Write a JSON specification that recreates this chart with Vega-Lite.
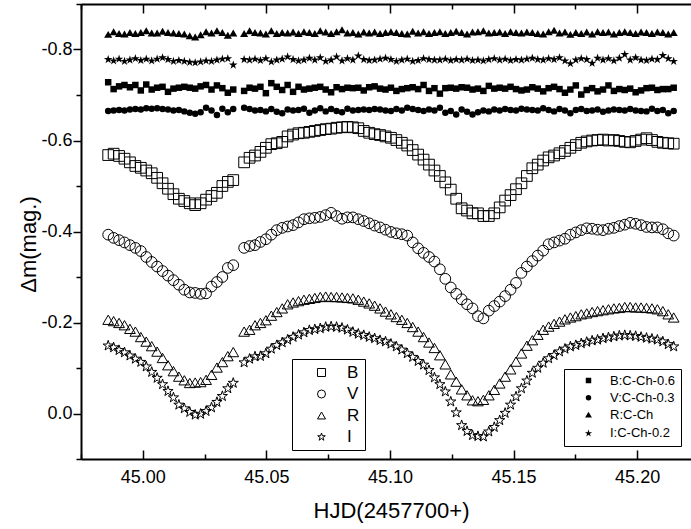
{
"$schema": "https://vega.github.io/schema/vega-lite/v6.json",
"width": 610, "height": 455,
"autosize": {"type": "none"},
"padding": {"left": 81, "top": 4, "right": 0, "bottom": 70},
"background": "white",
"config": {"view": {"stroke": null}, "font": "Liberation Sans",
  "axis": {"grid": false, "domainColor": "black", "tickColor": "black", "labelColor": "black", "titleColor": "black", "labelFont": "Liberation Sans", "titleFont": "Liberation Sans"},
  "legend": {"labelFont": "Liberation Sans", "labelColor": "black"}},
"data": {"values": [
{"t":44.9860,"B":-0.568,"V":-0.393,"R":-0.206,"I":-0.149,"Bc":-0.728,"Vc":-0.665,"Rc":-0.832,"Ic":-0.778},
{"t":44.9882,"B":-0.571,"V":-0.386,"R":-0.203,"I":-0.145,"Bc":-0.713,"Vc":-0.666,"Rc":-0.838,"Ic":-0.775},
{"t":44.9904,"B":-0.566,"V":-0.381,"R":-0.199,"I":-0.139,"Bc":-0.719,"Vc":-0.667,"Rc":-0.834,"Ic":-0.779},
{"t":44.9926,"B":-0.560,"V":-0.376,"R":-0.194,"I":-0.134,"Bc":-0.722,"Vc":-0.666,"Rc":-0.833,"Ic":-0.774},
{"t":44.9948,"B":-0.552,"V":-0.370,"R":-0.186,"I":-0.127,"Bc":-0.717,"Vc":-0.668,"Rc":-0.836,"Ic":-0.777},
{"t":44.9970,"B":-0.544,"V":-0.364,"R":-0.180,"I":-0.120,"Bc":-0.722,"Vc":-0.669,"Rc":-0.834,"Ic":-0.780},
{"t":44.9992,"B":-0.540,"V":-0.357,"R":-0.168,"I":-0.113,"Bc":-0.710,"Vc":-0.668,"Rc":-0.836,"Ic":-0.776},
{"t":45.0014,"B":-0.534,"V":-0.344,"R":-0.158,"I":-0.103,"Bc":-0.723,"Vc":-0.671,"Rc":-0.840,"Ic":-0.779},
{"t":45.0036,"B":-0.528,"V":-0.333,"R":-0.148,"I":-0.091,"Bc":-0.712,"Vc":-0.670,"Rc":-0.835,"Ic":-0.775},
{"t":45.0058,"B":-0.518,"V":-0.323,"R":-0.136,"I":-0.078,"Bc":-0.716,"Vc":-0.671,"Rc":-0.835,"Ic":-0.779},
{"t":45.0080,"B":-0.506,"V":-0.313,"R":-0.122,"I":-0.064,"Bc":-0.718,"Vc":-0.669,"Rc":-0.839,"Ic":-0.782},
{"t":45.0102,"B":-0.494,"V":-0.303,"R":-0.106,"I":-0.049,"Bc":-0.707,"Vc":-0.668,"Rc":-0.836,"Ic":-0.778},
{"t":45.0124,"B":-0.482,"V":-0.293,"R":-0.093,"I":-0.035,"Bc":-0.714,"Vc":-0.666,"Rc":-0.835,"Ic":-0.774},
{"t":45.0146,"B":-0.472,"V":-0.283,"R":-0.081,"I":-0.019,"Bc":-0.716,"Vc":-0.667,"Rc":-0.834,"Ic":-0.776},
{"t":45.0168,"B":-0.467,"V":-0.272,"R":-0.073,"I":-0.011,"Bc":-0.718,"Vc":-0.664,"Rc":-0.833,"Ic":-0.774},
{"t":45.0190,"B":-0.462,"V":-0.266,"R":-0.067,"I":-0.003,"Bc":-0.716,"Vc":-0.661,"Rc":-0.829,"Ic":-0.772},
{"t":45.0212,"B":-0.458,"V":-0.265,"R":-0.068,"I":0.003,"Bc":-0.714,"Vc":-0.659,"Rc":-0.826,"Ic":-0.771},
{"t":45.0234,"B":-0.462,"V":-0.263,"R":-0.069,"I":0.001,"Bc":-0.719,"Vc":-0.662,"Rc":-0.831,"Ic":-0.773},
{"t":45.0256,"B":-0.470,"V":-0.264,"R":-0.074,"I":-0.005,"Bc":-0.722,"Vc":-0.672,"Rc":-0.838,"Ic":-0.775},
{"t":45.0278,"B":-0.478,"V":-0.279,"R":-0.085,"I":-0.013,"Bc":-0.712,"Vc":-0.666,"Rc":-0.835,"Ic":-0.774},
{"t":45.0300,"B":-0.485,"V":-0.289,"R":-0.101,"I":-0.025,"Bc":-0.721,"Vc":-0.656,"Rc":-0.840,"Ic":-0.777},
{"t":45.0322,"B":-0.500,"V":-0.300,"R":-0.113,"I":-0.038,"Bc":-0.715,"Vc":-0.670,"Rc":-0.836,"Ic":-0.779},
{"t":45.0344,"B":-0.509,"V":-0.320,"R":-0.126,"I":-0.055,"Bc":-0.705,"Vc":-0.662,"Rc":-0.830,"Ic":-0.780},
{"t":45.0366,"B":-0.513,"V":-0.326,"R":-0.135,"I":-0.067,"Bc":-0.712,"Vc":-0.669,"Rc":-0.835,"Ic":-0.766},
{"t":45.0410,"B":-0.552,"V":-0.364,"R":-0.180,"I":-0.112,"Bc":-0.709,"Vc":-0.672,"Rc":-0.834,"Ic":-0.778},
{"t":45.0432,"B":-0.562,"V":-0.368,"R":-0.184,"I":-0.120,"Bc":-0.716,"Vc":-0.669,"Rc":-0.840,"Ic":-0.777},
{"t":45.0454,"B":-0.567,"V":-0.370,"R":-0.194,"I":-0.125,"Bc":-0.714,"Vc":-0.666,"Rc":-0.836,"Ic":-0.779},
{"t":45.0476,"B":-0.575,"V":-0.377,"R":-0.199,"I":-0.126,"Bc":-0.718,"Vc":-0.667,"Rc":-0.835,"Ic":-0.776},
{"t":45.0498,"B":-0.584,"V":-0.383,"R":-0.205,"I":-0.132,"Bc":-0.704,"Vc":-0.664,"Rc":-0.833,"Ic":-0.780},
{"t":45.0520,"B":-0.592,"V":-0.393,"R":-0.215,"I":-0.142,"Bc":-0.726,"Vc":-0.669,"Rc":-0.840,"Ic":-0.773},
{"t":45.0542,"B":-0.594,"V":-0.403,"R":-0.223,"I":-0.150,"Bc":-0.718,"Vc":-0.663,"Rc":-0.834,"Ic":-0.777},
{"t":45.0564,"B":-0.597,"V":-0.408,"R":-0.231,"I":-0.156,"Bc":-0.711,"Vc":-0.660,"Rc":-0.836,"Ic":-0.779},
{"t":45.0586,"B":-0.609,"V":-0.411,"R":-0.240,"I":-0.162,"Bc":-0.722,"Vc":-0.668,"Rc":-0.835,"Ic":-0.784},
{"t":45.0608,"B":-0.613,"V":-0.414,"R":-0.244,"I":-0.168,"Bc":-0.707,"Vc":-0.666,"Rc":-0.837,"Ic":-0.778},
{"t":45.0630,"B":-0.616,"V":-0.420,"R":-0.247,"I":-0.173,"Bc":-0.718,"Vc":-0.667,"Rc":-0.834,"Ic":-0.775},
{"t":45.0652,"B":-0.617,"V":-0.427,"R":-0.250,"I":-0.178,"Bc":-0.712,"Vc":-0.670,"Rc":-0.838,"Ic":-0.777},
{"t":45.0674,"B":-0.619,"V":-0.429,"R":-0.252,"I":-0.183,"Bc":-0.714,"Vc":-0.661,"Rc":-0.836,"Ic":-0.781},
{"t":45.0696,"B":-0.621,"V":-0.430,"R":-0.254,"I":-0.185,"Bc":-0.716,"Vc":-0.666,"Rc":-0.834,"Ic":-0.777},
{"t":45.0718,"B":-0.623,"V":-0.432,"R":-0.256,"I":-0.187,"Bc":-0.718,"Vc":-0.671,"Rc":-0.840,"Ic":-0.782},
{"t":45.0740,"B":-0.625,"V":-0.436,"R":-0.257,"I":-0.190,"Bc":-0.712,"Vc":-0.664,"Rc":-0.837,"Ic":-0.774},
{"t":45.0762,"B":-0.626,"V":-0.441,"R":-0.256,"I":-0.191,"Bc":-0.706,"Vc":-0.669,"Rc":-0.834,"Ic":-0.777},
{"t":45.0784,"B":-0.628,"V":-0.434,"R":-0.256,"I":-0.190,"Bc":-0.717,"Vc":-0.665,"Rc":-0.838,"Ic":-0.784},
{"t":45.0806,"B":-0.629,"V":-0.428,"R":-0.255,"I":-0.188,"Bc":-0.713,"Vc":-0.662,"Rc":-0.842,"Ic":-0.775},
{"t":45.0828,"B":-0.630,"V":-0.431,"R":-0.254,"I":-0.184,"Bc":-0.716,"Vc":-0.670,"Rc":-0.835,"Ic":-0.780},
{"t":45.0850,"B":-0.629,"V":-0.431,"R":-0.253,"I":-0.179,"Bc":-0.715,"Vc":-0.666,"Rc":-0.836,"Ic":-0.777},
{"t":45.0872,"B":-0.627,"V":-0.427,"R":-0.250,"I":-0.175,"Bc":-0.716,"Vc":-0.667,"Rc":-0.833,"Ic":-0.786},
{"t":45.0894,"B":-0.621,"V":-0.423,"R":-0.246,"I":-0.172,"Bc":-0.710,"Vc":-0.668,"Rc":-0.837,"Ic":-0.778},
{"t":45.0916,"B":-0.617,"V":-0.418,"R":-0.242,"I":-0.168,"Bc":-0.717,"Vc":-0.667,"Rc":-0.835,"Ic":-0.776},
{"t":45.0938,"B":-0.614,"V":-0.413,"R":-0.237,"I":-0.165,"Bc":-0.719,"Vc":-0.669,"Rc":-0.837,"Ic":-0.777},
{"t":45.0960,"B":-0.612,"V":-0.409,"R":-0.231,"I":-0.161,"Bc":-0.714,"Vc":-0.668,"Rc":-0.834,"Ic":-0.779},
{"t":45.0982,"B":-0.609,"V":-0.404,"R":-0.224,"I":-0.158,"Bc":-0.712,"Vc":-0.666,"Rc":-0.836,"Ic":-0.781},
{"t":45.1004,"B":-0.606,"V":-0.399,"R":-0.218,"I":-0.153,"Bc":-0.716,"Vc":-0.665,"Rc":-0.838,"Ic":-0.778},
{"t":45.1026,"B":-0.601,"V":-0.396,"R":-0.212,"I":-0.147,"Bc":-0.709,"Vc":-0.669,"Rc":-0.836,"Ic":-0.774},
{"t":45.1048,"B":-0.595,"V":-0.394,"R":-0.206,"I":-0.140,"Bc":-0.713,"Vc":-0.666,"Rc":-0.834,"Ic":-0.777},
{"t":45.1070,"B":-0.589,"V":-0.391,"R":-0.199,"I":-0.132,"Bc":-0.715,"Vc":-0.672,"Rc":-0.833,"Ic":-0.779},
{"t":45.1092,"B":-0.579,"V":-0.376,"R":-0.190,"I":-0.124,"Bc":-0.717,"Vc":-0.669,"Rc":-0.839,"Ic":-0.774},
{"t":45.1114,"B":-0.569,"V":-0.363,"R":-0.180,"I":-0.115,"Bc":-0.713,"Vc":-0.667,"Rc":-0.835,"Ic":-0.776},
{"t":45.1136,"B":-0.558,"V":-0.353,"R":-0.168,"I":-0.107,"Bc":-0.722,"Vc":-0.665,"Rc":-0.838,"Ic":-0.780},
{"t":45.1158,"B":-0.547,"V":-0.344,"R":-0.156,"I":-0.095,"Bc":-0.709,"Vc":-0.668,"Rc":-0.834,"Ic":-0.778},
{"t":45.1180,"B":-0.534,"V":-0.334,"R":-0.144,"I":-0.079,"Bc":-0.715,"Vc":-0.666,"Rc":-0.836,"Ic":-0.777},
{"t":45.1202,"B":-0.522,"V":-0.317,"R":-0.128,"I":-0.064,"Bc":-0.703,"Vc":-0.672,"Rc":-0.838,"Ic":-0.777},
{"t":45.1224,"B":-0.508,"V":-0.296,"R":-0.108,"I":-0.048,"Bc":-0.715,"Vc":-0.661,"Rc":-0.834,"Ic":-0.779},
{"t":45.1246,"B":-0.492,"V":-0.277,"R":-0.086,"I":-0.026,"Bc":-0.716,"Vc":-0.665,"Rc":-0.836,"Ic":-0.776},
{"t":45.1268,"B":-0.472,"V":-0.263,"R":-0.070,"I":-0.002,"Bc":-0.714,"Vc":-0.657,"Rc":-0.839,"Ic":-0.778},
{"t":45.1290,"B":-0.451,"V":-0.251,"R":-0.053,"I":0.026,"Bc":-0.717,"Vc":-0.668,"Rc":-0.836,"Ic":-0.777},
{"t":45.1312,"B":-0.446,"V":-0.240,"R":-0.040,"I":0.039,"Bc":-0.716,"Vc":-0.663,"Rc":-0.833,"Ic":-0.779},
{"t":45.1334,"B":-0.440,"V":-0.231,"R":-0.029,"I":0.048,"Bc":-0.712,"Vc":-0.657,"Rc":-0.837,"Ic":-0.776},
{"t":45.1356,"B":-0.440,"V":-0.214,"R":-0.027,"I":0.050,"Bc":-0.714,"Vc":-0.662,"Rc":-0.838,"Ic":-0.777},
{"t":45.1378,"B":-0.434,"V":-0.209,"R":-0.030,"I":0.051,"Bc":-0.709,"Vc":-0.666,"Rc":-0.840,"Ic":-0.775},
{"t":45.1400,"B":-0.434,"V":-0.226,"R":-0.040,"I":0.040,"Bc":-0.720,"Vc":-0.664,"Rc":-0.835,"Ic":-0.778},
{"t":45.1422,"B":-0.440,"V":-0.236,"R":-0.052,"I":0.030,"Bc":-0.714,"Vc":-0.668,"Rc":-0.836,"Ic":-0.780},
{"t":45.1444,"B":-0.453,"V":-0.246,"R":-0.066,"I":0.015,"Bc":-0.716,"Vc":-0.666,"Rc":-0.837,"Ic":-0.777},
{"t":45.1466,"B":-0.468,"V":-0.258,"R":-0.081,"I":-0.001,"Bc":-0.714,"Vc":-0.669,"Rc":-0.834,"Ic":-0.779},
{"t":45.1488,"B":-0.480,"V":-0.272,"R":-0.097,"I":-0.019,"Bc":-0.718,"Vc":-0.667,"Rc":-0.838,"Ic":-0.776},
{"t":45.1510,"B":-0.493,"V":-0.287,"R":-0.114,"I":-0.037,"Bc":-0.713,"Vc":-0.666,"Rc":-0.836,"Ic":-0.778},
{"t":45.1532,"B":-0.506,"V":-0.309,"R":-0.132,"I":-0.055,"Bc":-0.710,"Vc":-0.670,"Rc":-0.835,"Ic":-0.777},
{"t":45.1554,"B":-0.522,"V":-0.323,"R":-0.149,"I":-0.072,"Bc":-0.712,"Vc":-0.668,"Rc":-0.837,"Ic":-0.779},
{"t":45.1576,"B":-0.539,"V":-0.335,"R":-0.161,"I":-0.089,"Bc":-0.717,"Vc":-0.667,"Rc":-0.836,"Ic":-0.781},
{"t":45.1598,"B":-0.547,"V":-0.347,"R":-0.173,"I":-0.100,"Bc":-0.714,"Vc":-0.666,"Rc":-0.834,"Ic":-0.778},
{"t":45.1620,"B":-0.556,"V":-0.358,"R":-0.184,"I":-0.111,"Bc":-0.708,"Vc":-0.671,"Rc":-0.833,"Ic":-0.777},
{"t":45.1642,"B":-0.563,"V":-0.372,"R":-0.191,"I":-0.121,"Bc":-0.715,"Vc":-0.667,"Rc":-0.838,"Ic":-0.780},
{"t":45.1664,"B":-0.567,"V":-0.376,"R":-0.197,"I":-0.128,"Bc":-0.718,"Vc":-0.664,"Rc":-0.841,"Ic":-0.778},
{"t":45.1686,"B":-0.572,"V":-0.380,"R":-0.202,"I":-0.136,"Bc":-0.713,"Vc":-0.669,"Rc":-0.835,"Ic":-0.782},
{"t":45.1708,"B":-0.577,"V":-0.384,"R":-0.207,"I":-0.142,"Bc":-0.705,"Vc":-0.666,"Rc":-0.837,"Ic":-0.775},
{"t":45.1730,"B":-0.584,"V":-0.393,"R":-0.211,"I":-0.147,"Bc":-0.712,"Vc":-0.660,"Rc":-0.832,"Ic":-0.769},
{"t":45.1752,"B":-0.590,"V":-0.398,"R":-0.214,"I":-0.150,"Bc":-0.721,"Vc":-0.667,"Rc":-0.836,"Ic":-0.777},
{"t":45.1774,"B":-0.595,"V":-0.403,"R":-0.218,"I":-0.154,"Bc":-0.701,"Vc":-0.669,"Rc":-0.834,"Ic":-0.780},
{"t":45.1796,"B":-0.598,"V":-0.407,"R":-0.220,"I":-0.157,"Bc":-0.711,"Vc":-0.665,"Rc":-0.837,"Ic":-0.778},
{"t":45.1818,"B":-0.600,"V":-0.406,"R":-0.223,"I":-0.160,"Bc":-0.715,"Vc":-0.666,"Rc":-0.833,"Ic":-0.770},
{"t":45.1840,"B":-0.601,"V":-0.404,"R":-0.225,"I":-0.162,"Bc":-0.708,"Vc":-0.668,"Rc":-0.838,"Ic":-0.781},
{"t":45.1862,"B":-0.602,"V":-0.403,"R":-0.227,"I":-0.165,"Bc":-0.712,"Vc":-0.663,"Rc":-0.836,"Ic":-0.777},
{"t":45.1884,"B":-0.600,"V":-0.406,"R":-0.229,"I":-0.167,"Bc":-0.721,"Vc":-0.666,"Rc":-0.837,"Ic":-0.780},
{"t":45.1906,"B":-0.601,"V":-0.408,"R":-0.231,"I":-0.169,"Bc":-0.709,"Vc":-0.668,"Rc":-0.833,"Ic":-0.775},
{"t":45.1928,"B":-0.599,"V":-0.412,"R":-0.232,"I":-0.171,"Bc":-0.713,"Vc":-0.667,"Rc":-0.836,"Ic":-0.781},
{"t":45.1950,"B":-0.597,"V":-0.415,"R":-0.234,"I":-0.172,"Bc":-0.711,"Vc":-0.666,"Rc":-0.838,"Ic":-0.789},
{"t":45.1972,"B":-0.596,"V":-0.419,"R":-0.234,"I":-0.171,"Bc":-0.714,"Vc":-0.669,"Rc":-0.836,"Ic":-0.777},
{"t":45.1994,"B":-0.599,"V":-0.417,"R":-0.233,"I":-0.170,"Bc":-0.706,"Vc":-0.666,"Rc":-0.834,"Ic":-0.782},
{"t":45.2016,"B":-0.602,"V":-0.414,"R":-0.233,"I":-0.168,"Bc":-0.710,"Vc":-0.665,"Rc":-0.837,"Ic":-0.777},
{"t":45.2038,"B":-0.605,"V":-0.410,"R":-0.232,"I":-0.166,"Bc":-0.715,"Vc":-0.664,"Rc":-0.836,"Ic":-0.776},
{"t":45.2060,"B":-0.601,"V":-0.409,"R":-0.231,"I":-0.164,"Bc":-0.716,"Vc":-0.670,"Rc":-0.834,"Ic":-0.779},
{"t":45.2082,"B":-0.597,"V":-0.409,"R":-0.229,"I":-0.162,"Bc":-0.711,"Vc":-0.665,"Rc":-0.837,"Ic":-0.778},
{"t":45.2104,"B":-0.595,"V":-0.405,"R":-0.225,"I":-0.158,"Bc":-0.713,"Vc":-0.667,"Rc":-0.836,"Ic":-0.787},
{"t":45.2126,"B":-0.594,"V":-0.396,"R":-0.218,"I":-0.152,"Bc":-0.713,"Vc":-0.660,"Rc":-0.833,"Ic":-0.780},
{"t":45.2148,"B":-0.593,"V":-0.391,"R":-0.211,"I":-0.147,"Bc":-0.716,"Vc":-0.665,"Rc":-0.836,"Ic":-0.774}
]},
"layer": [
 {
  "transform": [{"fold": ["B", "V", "R", "I"], "as": ["band", "m"]}],
  "mark": {"type": "point", "filled": false, "color": "black", "strokeWidth": 1, "opacity": 1, "size": 115},
  "encoding": {
   "x": {"field": "t", "type": "quantitative", "scale": {"domain": [44.975, 45.2218], "nice": false, "zero": false},
     "axis": {"orient": "bottom", "values": [45, 45.05, 45.1, 45.15, 45.2], "format": ".2f", "title": "HJD(2457700+)",
       "ticks": false, "domainWidth": 2, "labelFontSize": 18, "labelPadding": 18, "labelBaseline": "middle", "labelFlush": false,
       "titleFontSize": 22, "titleFontWeight": "normal", "titleX": 310, "titleY": 51, "titleBaseline": "middle"}},
   "y": {"field": "m", "type": "quantitative", "scale": {"domain": [-0.9, 0.1], "reverse": true, "nice": false, "zero": false},
     "axis": {"orient": "left", "values": [-0.8, -0.6, -0.4, -0.2, 0], "labelExpr": "datum.value == 0 ? '0.0' : '-' + format(abs(datum.value), '.1f')",
       "tickSize": 8, "tickWidth": 1.5, "domainWidth": 2, "labelFontSize": 18, "labelPadding": 1, "labelFlush": false,
       "title": "Δm(mag.)", "titleFontSize": 22, "titleFontWeight": "normal", "titleX": -53, "titleY": 240, "titleAngle": -90, "titleBaseline": "middle", "titleAlign": "center"}},
   "shape": {"field": "band", "type": "nominal", "scale": {"domain": ["B", "V", "R", "I"], "range": ["square", "circle", "triangle-up", "M0,-1L0.225,-0.309L0.951,-0.309L0.363,0.118L0.588,0.809L0,0.382L-0.588,0.809L-0.363,0.118L-0.951,-0.309L-0.225,-0.309Z"]},
     "legend": {"title": null, "orient": "none", "legendX": 211, "legendY": 355, "direction": "vertical", "strokeColor": "black",
       "padding": 5, "symbolOffset": 16, "labelOffset": 17, "labelFontSize": 17, "rowPadding": 3.5, "symbolSize": 64,
       "symbolStrokeColor": "black", "symbolFillColor": "white", "symbolStrokeWidth": 1}}
  }
 },
 {
  "transform": [{"fold": ["Bc", "Vc", "Rc", "Ic"], "as": ["comp", "m"]}],
  "mark": {"type": "point", "filled": true, "color": "black", "opacity": 1, "size": 42},
  "encoding": {
   "x": {"field": "t", "type": "quantitative", "scale": {"domain": [44.975, 45.2218], "nice": false, "zero": false},
     "axis": {"orient": "top", "values": [45, 45.05, 45.1, 45.15, 45.2], "labels": false, "title": null, "tickSize": -9, "tickWidth": 1.5, "domainWidth": 2}},
   "y": {"field": "m", "type": "quantitative", "scale": {"domain": [-0.9, 0.1], "reverse": true, "nice": false, "zero": false}, "axis": null},
   "shape": {"field": "comp", "type": "nominal", "scale": {"domain": ["Bc", "Vc", "Rc", "Ic"], "range": ["square", "circle", "M0,-1.25L1.25,0.9L-1.25,0.9Z", "M0,-1.4L0.315,-0.433L1.331,-0.433L0.508,0.165L0.823,1.133L0,0.535L-0.823,1.133L-0.508,0.165L-1.331,-0.433L-0.315,-0.433Z"]},
     "legend": {"title": null, "orient": "none", "legendX": 483, "legendY": 365, "direction": "vertical", "strokeColor": "black",
       "padding": 5, "symbolOffset": 13, "labelOffset": 15, "labelFontSize": 13, "rowPadding": 3.3, "symbolSize": 30,
       "symbolStrokeColor": "black", "symbolFillColor": "black",
       "labelExpr": "datum.label == 'Bc' ? 'B:C-Ch-0.6' : datum.label == 'Vc' ? 'V:C-Ch-0.3' : datum.label == 'Rc' ? 'R:C-Ch' : 'I:C-Ch-0.2'"}}
  }
 },
 {
  "mark": {"type": "point", "opacity": 0},
  "encoding": {
   "x": {"field": "t", "type": "quantitative", "scale": {"domain": [44.975, 45.2218], "nice": false, "zero": false},
     "axis": {"orient": "bottom", "values": [44.975, 45.025, 45.075, 45.125, 45.175], "labels": false, "title": null, "tickSize": -5, "tickWidth": 1.5, "domain": false}},
   "y": {"field": "B", "type": "quantitative", "scale": {"domain": [-0.9, 0.1], "reverse": true, "nice": false, "zero": false},
     "axis": {"orient": "left", "values": [-0.9, -0.7, -0.5, -0.3, -0.1, 0.1], "labels": false, "title": null, "tickSize": 5, "tickWidth": 1.5, "domain": false}}
  }
 },
 {
  "mark": {"type": "point", "opacity": 0},
  "encoding": {
   "x": {"field": "t", "type": "quantitative", "scale": {"domain": [44.975, 45.2218], "nice": false, "zero": false},
     "axis": {"orient": "top", "values": [44.975, 45.025, 45.075, 45.125, 45.175], "labels": false, "title": null, "tickSize": -5, "tickWidth": 1.5, "domain": false}},
   "y": {"field": "B", "type": "quantitative", "scale": {"domain": [-0.9, 0.1], "reverse": true, "nice": false, "zero": false}, "axis": null}
  }
 },
 {
  "mark": {"type": "point", "opacity": 0},
  "encoding": {
   "x": {"field": "t", "type": "quantitative", "scale": {"domain": [44.975, 45.2218], "nice": false, "zero": false},
     "axis": {"orient": "bottom", "values": [45, 45.05, 45.1, 45.15, 45.2], "labels": false, "title": null, "tickSize": -9, "tickWidth": 1.5, "domain": false}},
   "y": {"field": "B", "type": "quantitative", "scale": {"domain": [-0.9, 0.1], "reverse": true, "nice": false, "zero": false}, "axis": null}
  }
 }
],
"resolve": {"scale": {"shape": "independent"}, "axis": {"x": "independent", "y": "independent"}}
}
